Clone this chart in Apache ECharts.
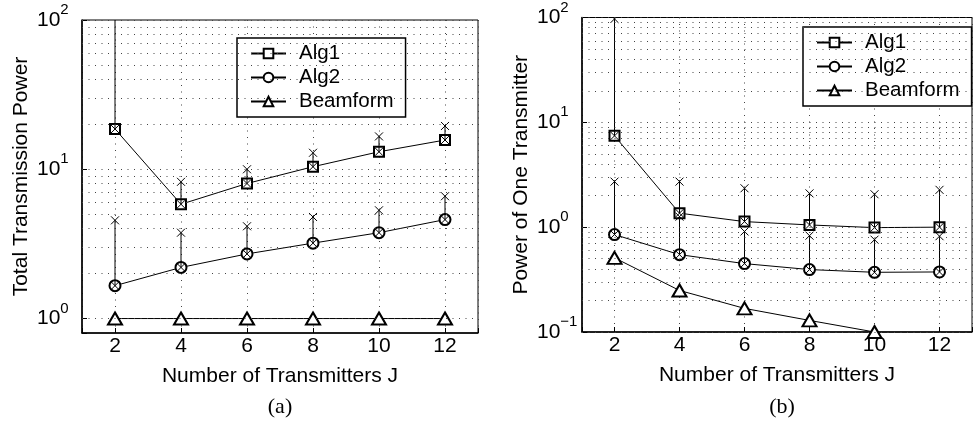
<!DOCTYPE html>
<html>
<head>
<meta charset="utf-8">
<script src="https://cdn.jsdelivr.net/npm/echarts@6/dist/echarts.min.js"></script>
<style>
  html, body { margin: 0; background: #fff; }
  #chart { width: 975px; height: 423px; }
</style>
</head>
<body>
<div id="chart"></div>
<script>
const FONT = 'Liberation Sans, Arial, sans-serif';

const transmitters = [2, 4, 6, 8, 10, 12];

// (a) Total Transmission Power
const alg1Total = [18.6, 5.83, 8.03, 10.4, 13.1, 15.7];
const alg1TotalHigh = [120, 8.24, 10.0, 12.9, 16.6, 19.5];
const alg2Total = [1.66, 2.20, 2.71, 3.20, 3.76, 4.60];
const alg2TotalHigh = [4.55, 3.76, 4.15, 4.79, 5.31, 6.6];
const beamTotal = [1, 1, 1, 1, 1, 1];

// (b) Power of One Transmitter
const alg1One = [7.43, 1.36, 1.13, 1.05, 0.99, 1.0];
const alg1OneHigh = [97, 2.72, 2.35, 2.10, 2.06, 2.27];
const alg2One = [0.85, 0.547, 0.449, 0.394, 0.371, 0.374];
const alg2OneHigh = [2.72, 1.26, 0.91, 0.83, 0.76, 0.82];
const beamOne = [0.51, 0.249, 0.168, 0.129, 0.10, null];

// log grid lines (matlab style)
const multiples = [1, 2, 3, 4, 5, 6, 7, 8, 9];
const decadesA = [1, 10];
const decadesB = [0.1, 1, 10];

const pairs = (ys) => transmitters.map((j, i) => [j, ys[i]]);
const bars = (lo, hi) => transmitters.map((j, i) => [j, lo[i], hi[i]]);
const gridVals = (decades) => decades.flatMap(d => multiples.map(m => +(m * d).toPrecision(3))).concat([100]);

function renderBar(params, api) {
  const x = api.value(0);
  const lo = api.coord([x, api.value(1)]);
  const hi = api.coord([x, api.value(2)]);
  const s = 4;
  const style = { stroke: '#000', lineWidth: 1 };
  const cross = (p) => [
    { type: 'line', shape: { x1: p[0] - s, y1: p[1] - s, x2: p[0] + s, y2: p[1] + s }, style },
    { type: 'line', shape: { x1: p[0] - s, y1: p[1] + s, x2: p[0] + s, y2: p[1] - s }, style }
  ];
  return {
    type: 'group',
    children: [{ type: 'line', shape: { x1: lo[0], y1: lo[1], x2: hi[0], y2: hi[1] }, style }]
      .concat(cross(lo), cross(hi))
  };
}

function supLabel(v) {
  const e = Math.log10(v);
  const r = Math.round(e);
  if (Math.abs(e - r) > 1e-6) return '';
  return '10{sup|' + (r < 0 ? '\u2212' + (-r) : r) + '}';
}

const dotted = { color: '#444', width: 1, type: [1, 5.5] };

function xAxis(gi) {
  return {
    type: 'value', gridIndex: gi, min: 1, max: 13, splitNumber: 6,
    name: 'Number of Transmitters J', nameLocation: 'middle', nameGap: 33,
    nameTextStyle: { fontFamily: FONT, fontSize: 21, color: '#000' },
    axisLine: { lineStyle: { color: '#000', width: 1.5 } },
    axisTick: { inside: true, length: 5, lineStyle: { color: '#000' } },
    axisLabel: {
      fontFamily: FONT, fontSize: 21, color: '#000', margin: 3,
      formatter: v => (v % 2 === 0 ? String(v) : '')
    },
    splitLine: { show: true, lineStyle: dotted }
  };
}

function yAxis(gi, min, title) {
  return {
    type: 'log', gridIndex: gi, min: min, max: 100, logBase: 10,
    name: title, nameLocation: 'middle', nameGap: 50,
    nameTextStyle: { fontFamily: FONT, fontSize: 21, color: '#000' },
    axisLine: { lineStyle: { color: '#000', width: 1.5 } },
    axisTick: { inside: true, length: 5, lineStyle: { color: '#000' } },
    axisLabel: {
      fontFamily: FONT, fontSize: 21, color: '#000', margin: 45, align: 'left',
      formatter: supLabel,
      rich: { sup: { fontFamily: FONT, fontSize: 15, color: '#000', verticalAlign: 'bottom', padding: [0, 0, 20, 0] } }
    },
    splitLine: { show: false }
  };
}

function gridLines(gi, vals) {
  return {
    type: 'line', xAxisIndex: gi, yAxisIndex: gi, data: [], silent: true, z: 1,
    markLine: {
      silent: true, symbol: 'none', label: { show: false }, animation: false,
      lineStyle: dotted,
      data: vals.map(v => ({ yAxis: v }))
    }
  };
}

function lineSeries(gi, name, ys, symbol, size) {
  return {
    type: 'line', name: name, xAxisIndex: gi, yAxisIndex: gi, data: pairs(ys),
    symbol: symbol, symbolSize: size, z: 3,
    lineStyle: { color: '#000', width: 1 },
    itemStyle: { color: '#000', borderColor: '#000', borderWidth: 1 },
    emphasis: { disabled: true }
  };
}

function errSeries(gi, lo, hi) {
  return {
    type: 'custom', xAxisIndex: gi, yAxisIndex: gi, data: bars(lo, hi), clip: true, z: 4,
    encode: { x: 0, y: [1, 2] }, renderItem: renderBar, silent: true
  };
}

function legend(left, top) {
  return {
    left: left, top: top, orient: 'vertical', data: ['Alg1', 'Alg2', 'Beamform'],
    backgroundColor: '#fff', borderColor: '#000', borderWidth: 1.5,
    padding: [5, 12, 5, 13], itemWidth: 35, itemHeight: 12, itemGap: 3,
    textStyle: { fontFamily: FONT, fontSize: 20.5, color: '#000', lineHeight: 20, padding: [0, 0, 0, 8] },
    selectedMode: false
  };
}

const chart = echarts.init(document.getElementById('chart'), null, { renderer: 'canvas' });
chart.setOption({
  animation: false,
  backgroundColor: '#fff',
  grid: [
    { left: 82, top: 20, width: 396, height: 313, show: true, borderColor: '#000', borderWidth: 1, backgroundColor: '#fff' },
    { left: 582, top: 16, width: 399, height: 316, show: true, borderColor: '#000', borderWidth: 1, backgroundColor: '#fff' }
  ],
  legend: [legend(237, 38), legend(803, 27)],
  xAxis: [xAxis(0), xAxis(1)],
  yAxis: [yAxis(0, 0.8, 'Total Transmission Power'), yAxis(1, 0.1, 'Power of One Transmitter')],
  graphic: [
    { type: 'text', x: 280, y: 407, style: { text: '(a)', align: 'center', verticalAlign: 'middle', fontFamily: 'Liberation Serif, serif', fontSize: 22, fill: '#000' } },
    { type: 'text', x: 782, y: 407, style: { text: '(b)', align: 'center', verticalAlign: 'middle', fontFamily: 'Liberation Serif, serif', fontSize: 22, fill: '#000' } }
  ],
  series: [
    gridLines(0, gridVals(decadesA)),
    gridLines(1, gridVals(decadesB)),
    lineSeries(0, 'Alg1', alg1Total, 'emptyRect', 10),
    lineSeries(0, 'Alg2', alg2Total, 'emptyCircle', 11),
    lineSeries(0, 'Beamform', beamTotal, 'emptyTriangle', [14, 12]),
    errSeries(0, alg1Total, alg1TotalHigh),
    errSeries(0, alg2Total, alg2TotalHigh),
    lineSeries(1, 'Alg1', alg1One, 'emptyRect', 10),
    lineSeries(1, 'Alg2', alg2One, 'emptyCircle', 11),
    lineSeries(1, 'Beamform', beamOne, 'emptyTriangle', [14, 12]),
    errSeries(1, alg1One, alg1OneHigh),
    errSeries(1, alg2One, alg2OneHigh)
  ]
});
</script>
</body>
</html>
